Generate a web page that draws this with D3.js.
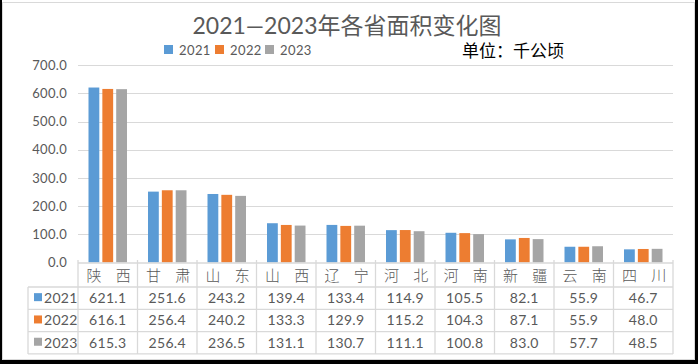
<!DOCTYPE html>
<html>
<head>
<meta charset="utf-8">
<script src="https://cdn.jsdelivr.net/npm/d3@7"></script>
<style>
  html, body { margin: 0; padding: 0; background: #fff; }
  svg text { font-family: "Lato", "Noto Sans CJK SC", sans-serif; }
</style>
</head>
<body>
<svg id="chart" width="698" height="364"></svg>
<script>
var categories = ['陕西', '甘肃', '山东', '山西', '辽宁', '河北', '河南', '新疆', '云南', '四川'];
var seriesNames = ['2021', '2022', '2023'];
var values2021 = [621.1, 251.6, 243.2, 139.4, 133.4, 114.9, 105.5, 82.1, 55.9, 46.7];
var values2022 = [616.1, 256.4, 240.2, 133.3, 129.9, 115.2, 104.3, 87.1, 55.9, 48.0];
var values2023 = [615.3, 256.4, 236.5, 131.1, 130.7, 111.1, 100.8, 83.0, 57.7, 48.5];
var yTicks = [0, 100, 200, 300, 400, 500, 600, 700];
var colors = ['#5b9bd5', '#ed7d31', '#a5a5a5'];

var allValues = [values2021, values2022, values2023];
var svg = d3.select('#chart');
var gridColor = '#d9d9d9';
var textColor = '#595959';

// frame
svg.append('rect').attr('width', 698).attr('height', 364).attr('fill', '#fff');
svg.append('rect').attr('x', 2.5).attr('y', 2.5).attr('width', 692).attr('height', 357)
  .attr('fill', 'none').attr('stroke', gridColor);
svg.append('rect').attr('x', 0).attr('y', 0).attr('width', 2).attr('height', 364).attr('fill', '#000');
svg.append('rect').attr('x', 695).attr('y', 0).attr('width', 3).attr('height', 364).attr('fill', '#000');
svg.append('rect').attr('x', 0).attr('y', 360).attr('width', 698).attr('height', 4).attr('fill', '#000');

// title
svg.append('text').attr('x', 347).attr('y', 34).attr('text-anchor', 'middle')
  .attr('font-size', 23).attr('fill', textColor)
  .text('2021—2023年各省面积变化图');

svg.append('text').attr('x', 462).attr('y', 57)
  .attr('font-size', 17).attr('fill', '#000')
  .style('font-family', '"Noto Sans CJK SC", sans-serif')
  .text('单位：千公顷');

// legend
var legendX = [164, 215, 265];
seriesNames.forEach(function(name, i) {
  svg.append('rect').attr('x', legendX[i]).attr('y', 45).attr('width', 9).attr('height', 9)
    .attr('fill', colors[i]);
  svg.append('text').attr('x', legendX[i] + 15).attr('y', 54.5)
    .attr('font-size', 13).attr('fill', textColor).attr('letter-spacing', 0.4).text(name);
});

var plotLeft = 78, plotRight = 673, plotTop = 65.3, plotBottom = 262.5;

var x0 = d3.scaleBand().domain(categories).range([plotLeft, plotRight]);
var x1 = d3.scaleBand().domain(seriesNames).range([10.5, 49]).paddingInner(0.22);
var y = d3.scaleLinear().domain([0, 700]).range([plotBottom, plotTop]);

// grid
svg.append('g').selectAll('line').data(yTicks.slice(1)).join('line')
  .attr('x1', plotLeft).attr('x2', plotRight)
  .attr('y1', function(d) { return Math.round(y(d)) + 0.5; })
  .attr('y2', function(d) { return Math.round(y(d)) + 0.5; })
  .attr('stroke', gridColor);

var yAxis = svg.append('g').attr('transform', 'translate(' + plotLeft + ',0)')
  .call(d3.axisLeft(y).tickValues(yTicks).tickFormat(d3.format('.1f')).tickSize(0).tickPadding(11));
yAxis.select('.domain').remove();
yAxis.selectAll('text').attr('font-size', 13).attr('fill', textColor)
  .attr('letter-spacing', 0.3)
  .style('font-family', '"Lato", sans-serif');

// bars
var groups = svg.append('g').selectAll('g').data(categories).join('g')
  .attr('transform', function(d) { return 'translate(' + x0(d) + ',0)'; });
groups.selectAll('rect')
  .data(function(d, ci) { return seriesNames.map(function(s, si) { return { s: s, v: allValues[si][ci], i: si }; }); })
  .join('rect')
  .attr('x', function(d) { return x1(d.s); })
  .attr('width', x1.bandwidth())
  .attr('y', function(d) { return y(d.v); })
  .attr('height', function(d) { return plotBottom - y(d.v); })
  .attr('fill', function(d) { return colors[d.i]; });

// data table
var rowTop = 263, headerBottom = 287, rowH = 22.3, tableLeft = 28;
var tableBottom = headerBottom + rowH * 3;
var t = svg.append('g').attr('stroke', gridColor).attr('stroke-width', 1.3);
t.append('line').attr('x1', plotLeft).attr('x2', plotRight).attr('y1', rowTop).attr('y2', rowTop);
d3.range(4).forEach(function(r) {
  var yy = headerBottom + r * rowH;
  t.append('line').attr('x1', tableLeft).attr('x2', plotRight).attr('y1', yy).attr('y2', yy);
});
categories.concat(['end']).forEach(function(c, i) {
  var xx = plotLeft + i * x0.bandwidth();
  t.append('line').attr('x1', xx).attr('x2', xx).attr('y1', rowTop - 3).attr('y2', tableBottom);
});
t.append('line').attr('x1', tableLeft).attr('x2', tableLeft).attr('y1', headerBottom).attr('y2', tableBottom);

// category labels, characters spread across cell
categories.forEach(function(c) {
  var bx = x0(c), bw = x0.bandwidth();
  [0.27, 0.76].forEach(function(f, k) {
    svg.append('text').attr('x', bx + bw * f).attr('y', 281)
      .attr('text-anchor', 'middle').attr('font-size', 15).attr('fill', textColor)
      .style('font-family', '"Noto Sans CJK SC", sans-serif').style('font-weight', 300)
      .text(c.charAt(k));
  });
});

seriesNames.forEach(function(s, si) {
  var cy = headerBottom + rowH * si + rowH / 2 + 5;
  svg.append('rect').attr('x', 34).attr('y', cy - 10).attr('width', 8).attr('height', 8)
    .attr('fill', colors[si]);
  svg.append('text').attr('x', 44).attr('y', cy).attr('font-size', 14).attr('fill', textColor)
    .attr('letter-spacing', 0.3).text(s);
  categories.forEach(function(c, ci) {
    svg.append('text').attr('x', x0(c) + x0.bandwidth() / 2).attr('y', cy)
      .attr('text-anchor', 'middle').attr('font-size', 14).attr('fill', textColor)
      .attr('letter-spacing', 0.3)
      .text(d3.format('.1f')(allValues[si][ci]));
  });
});
</script>
</body>
</html>
